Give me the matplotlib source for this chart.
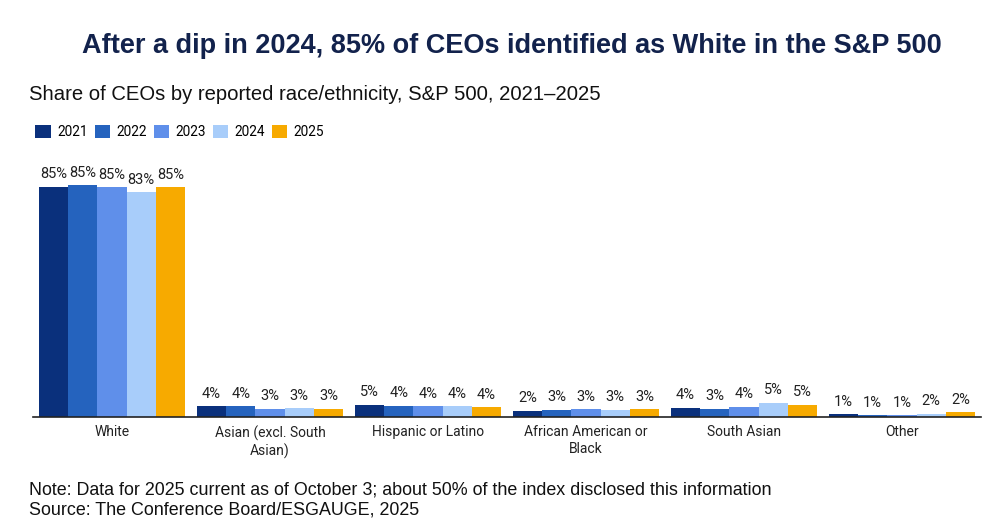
import matplotlib
matplotlib.use("Agg")
import matplotlib.pyplot as plt
import numpy as np
from matplotlib.patches import Patch

categories = ["White", "Asian (excl. South\nAsian)", "Hispanic or Latino",
              "African American or\nBlack", "South Asian", "Other"]
years = ["2021", "2022", "2023", "2024", "2025"]
values = {
    "2021": [85.2, 4.0, 4.6, 2.2, 3.5, 1.0],
    "2022": [85.6, 3.9, 4.2, 2.6, 3.0, 0.7],
    "2023": [84.9, 3.0, 3.9, 2.8, 3.8, 0.6],
    "2024": [83.0, 3.2, 3.9, 2.6, 5.2, 1.2],
    "2025": [84.9, 3.0, 3.6, 2.8, 4.6, 1.8],
}
labels = {
    "2021": ["85%", "4%", "5%", "2%", "4%", "1%"],
    "2022": ["85%", "4%", "4%", "3%", "3%", "1%"],
    "2023": ["85%", "3%", "4%", "3%", "4%", "1%"],
    "2024": ["83%", "3%", "4%", "3%", "5%", "2%"],
    "2025": ["85%", "3%", "4%", "3%", "5%", "2%"],
}
colors = ["#0A307C", "#2563BE", "#5F8FEA", "#A8CDFA", "#F7AA00"]

fig = plt.figure(figsize=(10, 5.31), dpi=100)
ax = fig.add_axes([0.033, 1 - 417 / 531, 0.948, (417 - 170) / 531])

x = np.arange(len(categories))
w = 0.185
for i, y in enumerate(years):
    pos = x + (i - 2) * w
    bars = ax.bar(pos, values[y], width=w, color=colors[i], edgecolor="none")
    for b, lab in zip(bars, labels[y]):
        ax.annotate(lab, (b.get_x() + b.get_width() / 2, b.get_height()),
                    xytext=(0, 4), textcoords="offset points",
                    ha="center", va="bottom", fontsize=10.5,
                    family="Roboto", color="#222222")

ax.set_xlim(-0.5, len(categories) - 0.5)
ax.set_ylim(0, 91.3)
ax.set_yticks([])
ax.set_xticks(x)
ax.set_xticklabels(categories, fontsize=10, family="Roboto", color="#222222",
                   linespacing=1.25)
ax.tick_params(axis="x", length=0, pad=6)
for s in ["top", "right", "left"]:
    ax.spines[s].set_visible(False)
ax.spines["bottom"].set_color("#222222")
ax.spines["bottom"].set_linewidth(1.2)

fig.text(0.512, 1 - 46 / 531, "After a dip in 2024, 85% of CEOs identified as White in the S&P 500",
         ha="center", va="center", fontsize=19.5, fontweight="bold",
         family="Liberation Sans", color="#12224C")
fig.text(0.029, 1 - 95 / 531, "Share of CEOs by reported race/ethnicity, S&P 500, 2021\u20132025",
         ha="left", va="center", fontsize=14.6, family="Liberation Sans", color="#111111")

handles = [Patch(facecolor=c, edgecolor="none") for c in colors]
fig.legend(handles, years, loc="center left", bbox_to_anchor=(0.030, 1 - 132 / 531),
           ncol=5, frameon=False, handlelength=1.15, handleheight=1.15,
           handletextpad=0.45, columnspacing=0.5, borderaxespad=0,
           prop={"family": "Roboto", "size": 9.8})

fig.text(0.029, 1 - 490 / 531,
         "Note: Data for 2025 current as of October 3; about 50% of the index disclosed this information",
         ha="left", va="center", fontsize=12.9, family="Liberation Sans", color="#111111")
fig.text(0.029, 1 - 510 / 531, "Source: The Conference Board/ESGAUGE, 2025",
         ha="left", va="center", fontsize=12.9, family="Liberation Sans", color="#111111")

fig.savefig("out.png", dpi=100, facecolor="white")
